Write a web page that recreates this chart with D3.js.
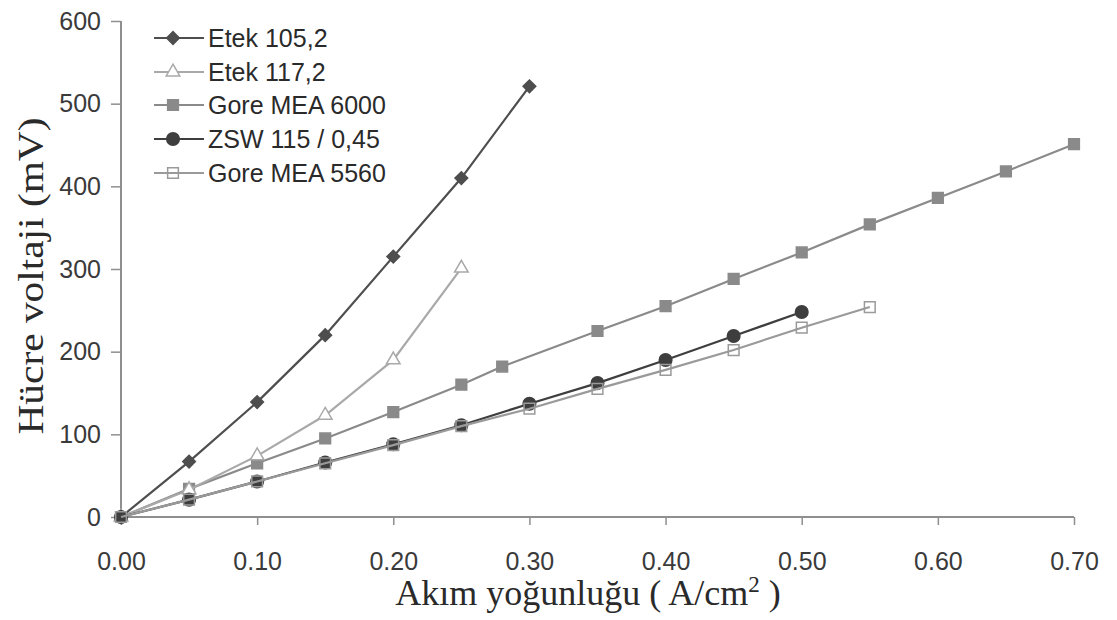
<!DOCTYPE html>
<html><head><meta charset="utf-8">
<script src="https://cdn.jsdelivr.net/npm/d3@7"></script>
<style>body{margin:0;background:#fff;} svg{display:block}</style>
</head><body>
<svg id="c" width="1117" height="620"></svg>
<script>
// ---- data ----
const xTicks = [0, 0.1, 0.2, 0.3, 0.4, 0.5, 0.6, 0.7];
const yTicks = [0, 100, 200, 300, 400, 500, 600];
const seriesNames = ["Etek 105,2", "Etek 117,2", "Gore MEA 6000", "ZSW 115 / 0,45", "Gore MEA 5560"];
const etek1052X = [0, 0.05, 0.10, 0.15, 0.20, 0.25, 0.30];
const etek1052Y = [0, 67, 139, 220, 315, 410, 521];
const etek1172X = [0, 0.05, 0.10, 0.15, 0.20, 0.25];
const etek1172Y = [0, 33, 74, 123, 190, 301];
const gore6000X = [0, 0.05, 0.10, 0.15, 0.20, 0.25, 0.28, 0.35, 0.40, 0.45, 0.50, 0.55, 0.60, 0.65, 0.70];
const gore6000Y = [0, 34, 65, 95, 127, 160, 182, 225, 255, 288, 320, 354, 386, 418, 451];
const zswX = [0, 0.05, 0.10, 0.15, 0.20, 0.25, 0.30, 0.35, 0.40, 0.45, 0.50];
const zswY = [0, 21, 43, 66, 88, 111, 137, 162, 190, 219, 248];
const gore5560X = [0, 0.05, 0.10, 0.15, 0.20, 0.25, 0.30, 0.35, 0.40, 0.45, 0.50, 0.55];
const gore5560Y = [0, 21, 43, 65, 87, 110, 131, 155, 178, 202, 229, 254];

// ---- styles ----
const styles = {
  "Etek 105,2":     {color: "#4e4e4e", marker: "diamond", fill: "#4e4e4e", size: 80},
  "Etek 117,2":     {color: "#a9a9a9", marker: "triangle", fill: "#fff", size: 80},
  "Gore MEA 6000":  {color: "#8a8a8a", marker: "square", fill: "#8a8a8a", size: 115},
  "ZSW 115 / 0,45": {color: "#3e3e3e", marker: "circle", fill: "#3e3e3e", size: 125},
  "Gore MEA 5560":  {color: "#9a9a9a", marker: "square", fill: "none", size: 115}
};
const seriesData = {
  "Etek 105,2": [etek1052X, etek1052Y],
  "Etek 117,2": [etek1172X, etek1172Y],
  "Gore MEA 6000": [gore6000X, gore6000Y],
  "ZSW 115 / 0,45": [zswX, zswY],
  "Gore MEA 5560": [gore5560X, gore5560Y]
};
const drawOrder = ["Gore MEA 6000", "Etek 117,2", "Etek 105,2", "ZSW 115 / 0,45", "Gore MEA 5560"];

const svg = d3.select("#c");
const x = d3.scaleLinear().domain([0, 0.7]).range([121, 1074]);
const y = d3.scaleLinear().domain([0, 600]).range([517, 21]);
const axisColor = "#8f8f8f";
const sans = "'Liberation Sans', Arial, sans-serif";
const serif = "'Liberation Serif', 'Times New Roman', serif";

// axes
const yAxis = svg.append("g").attr("transform", "translate(121,0)")
  .call(d3.axisLeft(y).tickValues(yTicks).tickSize(10).tickPadding(10).tickFormat(d3.format("d")));
const xAxis = svg.append("g").attr("transform", "translate(0,517)")
  .call(d3.axisBottom(x).tickValues(xTicks).tickSize(8).tickPadding(27).tickFormat(d3.format(".2f")));
[xAxis, yAxis].forEach(g => {
  g.select(".domain").attr("stroke", axisColor).attr("stroke-width", 2);
  g.selectAll(".tick line").attr("stroke", axisColor).attr("stroke-width", 1.5);
  g.selectAll(".tick text").attr("fill", "#3a3a3a").style("font-family", sans).style("font-size", "25px");
});
yAxis.select(".domain").attr("d", "M0,517V21");
xAxis.select(".domain").attr("d", "M121,0H1074");

function symbolFor(m) {
  return {diamond: d3.symbolSquare, triangle: d3.symbolTriangle, square: d3.symbolSquare, circle: d3.symbolCircle}[m];
}
function rot(m) { return m === "diamond" ? " rotate(45)" : ""; }

const line = d3.line().x(d => x(d[0])).y(d => y(d[1]));
drawOrder.forEach(name => {
  const st = styles[name];
  const [xs, ys] = seriesData[name];
  const pts = xs.map((v, i) => [v, ys[i]]);
  const g = svg.append("g");
  g.append("path").datum(pts).attr("d", line).attr("fill", "none")
    .attr("stroke", st.color).attr("stroke-width", 2.2);
  g.selectAll("path.m").data(pts).enter().append("path").attr("class", "m")
    .attr("d", d3.symbol().type(symbolFor(st.marker)).size(st.size))
    .attr("transform", d => `translate(${x(d[0])},${y(d[1])})${rot(st.marker)}`)
    .attr("fill", st.fill).attr("stroke", st.color).attr("stroke-width", 1.5);
});

// legend
const legY = [38, 72, 105, 139, 173];
seriesNames.forEach((name, i) => {
  const st = styles[name];
  const g = svg.append("g").attr("transform", `translate(0,${legY[i]})`);
  g.append("line").attr("x1", 154).attr("x2", 204).attr("y1", 0).attr("y2", 0)
    .attr("stroke", st.color).attr("stroke-width", 2.2);
  g.append("path").attr("d", d3.symbol().type(symbolFor(st.marker)).size(st.size))
    .attr("transform", "translate(173,0)" + rot(st.marker))
    .attr("fill", st.fill).attr("stroke", st.color).attr("stroke-width", 1.5);
  g.append("text").attr("x", 208).attr("y", 9).text(name)
    .attr("fill", "#2a2a2a").style("font-family", sans).style("font-size", "25px");
});

// axis titles
svg.append("text").attr("transform", "translate(43,276) rotate(-90)")
  .attr("text-anchor", "middle").attr("fill", "#2a2a2a")
  .attr("textLength", 317).attr("lengthAdjust", "spacingAndGlyphs")
  .style("font-family", serif).style("font-size", "36px")
  .text("Hücre voltaji (mV)");
const xt = svg.append("text").attr("x", 588).attr("y", 605)
  .attr("text-anchor", "middle").attr("fill", "#2a2a2a")
  .style("font-family", serif).style("font-size", "36px");
xt.append("tspan").text("Akım yoğunluğu ( A/cm");
xt.append("tspan").attr("dy", -13).style("font-size", "23px").text("2");
xt.append("tspan").attr("dy", 13).text(" )");
</script>
</body></html>
